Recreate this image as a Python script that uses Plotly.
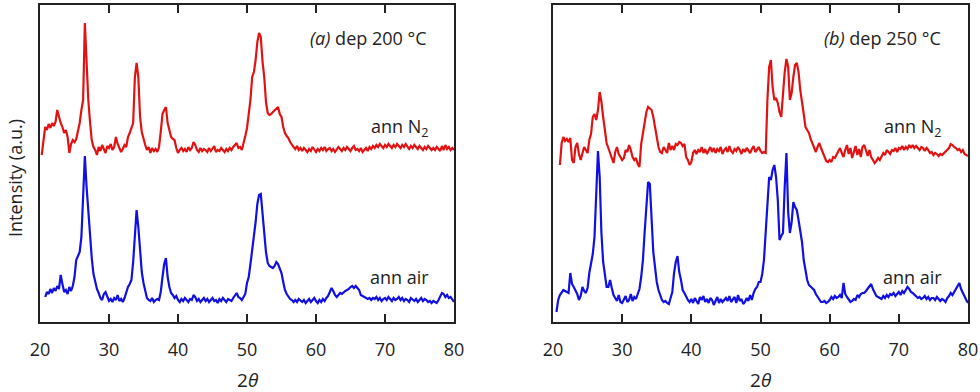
import numpy as np
import plotly.graph_objects as go

# 2-theta sampling grid (degrees)
two_theta = np.round(np.arange(20.25, 80.001, 0.25), 2)

# Panel (a) dep 200 C -- intensities (a.u.), rows = one degree (x.00, x.25, x.50, x.75)
a_air = ([None, None, 25] +
    [30, 28, 33, 29] + [34, 31, 36, 33] + [47, 38, 30, 32] + [28, 35, 31, 36] +
    [45, 62, 66, 70] + [85, 122, 166, 135] + [110, 82, 64, 48] + [39, 33, 29, 24] +
    [22, 28, 30, 25] + [21, 23, 20, 24] + [22, 27, 21, 23] + [20, 24, 30, 35] +
    [38, 42, 60, 88] + [112, 95, 69, 50] + [39, 30, 24, 22] + [21, 24, 20, 22] +
    [23, 22, 30, 45] + [58, 64, 45, 35] + [29, 27, 24, 26] + [22, 20, 23, 21] +
    [24, 22, 20, 23] + [22, 27, 25, 21] + [23, 20, 22, 24] + [21, 23, 20, 22] +
    [24, 21, 22, 19] + [23, 21, 24, 22] + [20, 23, 22, 21] + [24, 26, 29, 25] +
    [24, 22, 25, 28] + [39, 45, 58, 72] + [82, 100, 118, 127] + [128, 108, 89, 70] +
    [59, 56, 55, 54] + [56, 60, 58, 53] + [49, 40, 32, 28] + [25, 23, 22, 20] +
    [22, 20, 23, 21] + [20, 22, 19, 21] + [23, 20, 22, 24] + [21, 19, 22, 20] +
    [23, 21, 24, 26] + [30, 34, 31, 27] + [25, 27, 29, 28] + [30, 31, 32, 33] +
    [35, 36, 34, 36] + [34, 32, 27, 26] + [25, 24, 23, 24] + [22, 24, 23, 25] +
    [22, 24, 21, 23] + [24, 22, 25, 23] + [21, 24, 22, 23] + [25, 22, 24, 21] +
    [23, 22, 20, 24] + [22, 21, 23, 20] + [22, 24, 21, 23] + [22, 20, 21, 19] +
    [21, 20, 19, 22] + [26, 29, 28, 25] + [27, 24, 25, 22] + [20])

a_n2 = ([17, 30, 45] +
    [42, 48, 44, 49] + [46, 50, 62, 55] + [49, 45, 39, 42] + [35, 19, 28, 32] +
    [30, 33, 40, 49] + [62, 72, 149, 110] + [72, 50, 32, 25] + [22, 17, 25, 21] +
    [27, 23, 19, 26] + [24, 28, 22, 25] + [35, 28, 24, 20] + [23, 27, 25, 35] +
    [39, 45, 49, 95] + [109, 95, 55, 40] + [32, 27, 22, 25] + [19, 24, 21, 23] +
    [20, 25, 40, 58] + [62, 65, 49, 42] + [35, 33, 32, 24] + [19, 22, 24, 21] +
    [23, 20, 25, 22] + [24, 30, 27, 22] + [20, 24, 21, 23] + [22, 20, 24, 21] +
    [23, 26, 20, 22] + [21, 24, 22, 20] + [23, 21, 24, 22] + [25, 27, 29, 24] +
    [25, 22, 28, 36] + [44, 58, 72, 95] + [100, 112, 130, 139] + [135, 110, 95, 70] +
    [59, 57, 58, 60] + [62, 64, 65, 58] + [55, 45, 39, 36] + [34, 30, 27, 25] +
    [23, 26, 22, 24] + [21, 24, 22, 20] + [23, 21, 25, 22] + [20, 23, 21, 24] +
    [22, 25, 21, 23] + [24, 21, 23, 20] + [22, 25, 23, 21] + [24, 22, 25, 23] +
    [21, 24, 26, 22] + [23, 21, 24, 20] + [22, 24, 21, 25] + [23, 26, 24, 27] +
    [25, 28, 26, 24] + [27, 25, 28, 26] + [24, 27, 25, 28] + [26, 24, 27, 25] +
    [28, 25, 23, 26] + [24, 27, 25, 23] + [26, 24, 22, 25] + [23, 26, 24, 22] +
    [24, 22, 25, 23] + [21, 26, 22, 27] + [23, 25, 22, 24] + [22])

# Panel (b) dep 250 C
b_air = ([None, 10, 22] +
    [27, 29, 32, 31] + [30, 29, 49, 38] + [35, 32, 28, 22] + [26, 35, 31, 29] +
    [34, 49, 60, 68] + [85, 125, 171, 145] + [89, 60, 45, 35] + [35, 42, 34, 27] +
    [24, 21, 27, 20] + [19, 23, 26, 20] + [22, 28, 21, 25] + [23, 28, 33, 45] +
    [62, 90, 115, 140] + [138, 105, 70, 55] + [40, 32, 26, 22] + [20, 21, 19, 18] +
    [24, 30, 49, 60] + [66, 50, 42, 32] + [29, 25, 22, 20] + [23, 19, 24, 21] +
    [18, 25, 22, 26] + [20, 23, 19, 24] + [22, 17, 21, 25] + [19, 23, 20, 22] +
    [24, 21, 26, 20] + [22, 25, 19, 27] + [21, 23, 18, 20] + [24, 21, 27, 22] +
    [29, 33, 35, 40] + [40, 48, 62, 90] + [122, 145, 142, 152] + [157, 145, 122, 82] +
    [86, 89, 135, 169] + [110, 89, 100, 120] + [115, 112, 102, 92] + [80, 62, 50, 42] +
    [37, 35, 33, 32] + [28, 25, 22, 20] + [20, 21, 19, 20] + [22, 25, 23, 26] +
    [24, 25, 27, 24] + [39, 28, 25, 22] + [20, 21, 23, 22] + [27, 25, 28, 29] +
    [29, 31, 33, 36] + [38, 33, 29, 26] + [25, 24, 23, 26] + [24, 27, 25, 28] +
    [27, 29, 26, 28] + [30, 27, 31, 29] + [32, 35, 33, 30] + [29, 27, 26, 24] +
    [25, 23, 24, 26] + [23, 25, 22, 24] + [24, 22, 25, 23] + [21, 23, 22, 20] +
    [24, 26, 29, 27] + [30, 33, 37, 39] + [33, 29, 25, 22] + [19])

b_n2 = ([None, None, None] +
    [7, 29, 35, 31] + [33, 30, 34, 12] + [9, 25, 29, 18] + [12, 20, 25, 22] +
    [19, 32, 38, 55] + [58, 52, 62, 80] + [70, 55, 40, 29] + [24, 19, 12, 9] +
    [20, 25, 18, 15] + [12, 14, 22, 20] + [27, 22, 15, 12] + [14, 8, 5, 28] +
    [40, 52, 60, 65] + [63, 62, 55, 45] + [35, 25, 20, 19] + [25, 22, 19, 29] +
    [22, 26, 22, 28] + [27, 30, 29, 26] + [28, 15, 12, 7] + [10, 19, 22, 18] +
    [22, 20, 25, 19] + [23, 18, 22, 25] + [20, 24, 19, 23] + [21, 25, 18, 22] +
    [24, 20, 26, 21] + [19, 23, 21, 25] + [22, 18, 23, 20] + [24, 21, 19, 23] +
    [26, 20, 22, 25] + [21, 19, 20, 19] + [72, 105, 112, 85] + [72, 74, 69, 60] +
    [55, 78, 100, 113] + [105, 72, 79, 95] + [107, 109, 100, 82] + [72, 58, 45, 42] +
    [39, 33, 29, 24] + [20, 25, 29, 24] + [19, 15, 11, 10] + [12, 10, 15, 14] +
    [17, 20, 24, 19] + [15, 22, 27, 18] + [24, 14, 20, 26] + [17, 23, 15, 25] +
    [27, 20, 16, 22] + [15, 12, 9, 11] + [14, 12, 16, 19] + [17, 22, 20, 18] +
    [22, 21, 24, 20] + [24, 23, 26, 22] + [25, 23, 27, 24] + [27, 24, 26, 24] +
    [22, 25, 24, 21] + [24, 22, 19, 20] + [17, 19, 18, 16] + [18, 17, 19, 20] +
    [22, 24, 28, 27] + [25, 24, 22, 23] + [20, 22, 18, 17] + [16])

for s in (a_air, a_n2, b_air, b_n2):
    assert len(s) == len(two_theta), len(s)

x_ticks = [20, 30, 40, 50, 60, 70, 80]
panel_titles = ["<i>(a)</i> dep 200 °C", "<i>(b)</i> dep 250 °C"]
curve_labels = ["ann N<sub>2</sub>", "ann air"]
n2_offset = 150  # vertical stacking offset of the N2 curve

RED = "#e31212"
BLUE = "#1010e3"
FONT = "Open Sans, Noto Sans, sans-serif"
TXT = "#222222"

def shift(vals, off):
    return [None if v is None else v + off for v in vals]

fig = go.Figure()
panels = [("x", "y", a_n2, a_air), ("x2", "y2", b_n2, b_air)]
for xa, ya, n2, air in panels:
    fig.add_trace(go.Scatter(x=two_theta, y=shift(n2, n2_offset), mode="lines",
                             line=dict(color=RED, width=2.2), xaxis=xa, yaxis=ya,
                             showlegend=False, connectgaps=False))
    fig.add_trace(go.Scatter(x=two_theta, y=air, mode="lines",
                             line=dict(color=BLUE, width=2.2), xaxis=xa, yaxis=ya,
                             showlegend=False, connectgaps=False))

ydom = [70 / 392, 387 / 392]
xdoms = [[40 / 980, 454 / 980], [553 / 980, 968 / 980]]

axis_common = dict(showline=True, linecolor="#222", linewidth=2, mirror="ticks",
                   showgrid=False, zeroline=False, automargin=False)
xa_kw = dict(axis_common, range=[20, 80], tickvals=x_ticks, ticks="inside", ticklen=8,
             tickwidth=2, tickcolor="#222", tickfont=dict(family=FONT, size=18, color=TXT),
             ticklabelstandoff=10)
ya_kw = dict(axis_common, range=[0, 317], showticklabels=False, ticks="")

fig.update_layout(
    width=980, height=392,
    margin=dict(l=0, r=0, t=0, b=0),
    paper_bgcolor="white", plot_bgcolor="white",
    xaxis=dict(xa_kw, domain=xdoms[0], anchor="y"),
    yaxis=dict(ya_kw, domain=ydom, anchor="x"),
    xaxis2=dict(xa_kw, domain=xdoms[1], anchor="y2"),
    yaxis2=dict(ya_kw, domain=ydom, anchor="x2"),
)

ann = []
for i, (xr, yr) in enumerate([("x", "y"), ("x2", "y2")]):
    ann.append(dict(x=76.4, y=284, xref=xr, yref=yr, text=panel_titles[i], showarrow=False,
                    xanchor="right", yanchor="middle", font=dict(family=FONT, size=18, color=TXT)))
    ann.append(dict(x=76.6, y=195, xref=xr, yref=yr, text=curve_labels[0], showarrow=False,
                    xanchor="right", yanchor="middle", font=dict(family=FONT, size=18, color=TXT)))
    ann.append(dict(x=76.6, y=45, xref=xr, yref=yr, text=curve_labels[1], showarrow=False,
                    xanchor="right", yanchor="middle", font=dict(family=FONT, size=18, color=TXT)))
    cx = sum(xdoms[i]) / 2
    ann.append(dict(x=cx, y=12 / 392, xref="paper", yref="paper", text="2<i>θ</i>",
                    showarrow=False, xanchor="center", yanchor="middle",
                    font=dict(family=FONT, size=19, color=TXT)))
ann.append(dict(x=15 / 980, y=(392 - 178) / 392, xref="paper", yref="paper",
                text="Intensity (a.u.)", textangle=-90, showarrow=False,
                xanchor="center", yanchor="middle", font=dict(family=FONT, size=18, color=TXT)))
fig.update_layout(annotations=ann)

fig.write_html("out.html", config={"displayModeBar": False},
               post_script="document.body.style.margin='0px';document.body.style.overflow='hidden';")
